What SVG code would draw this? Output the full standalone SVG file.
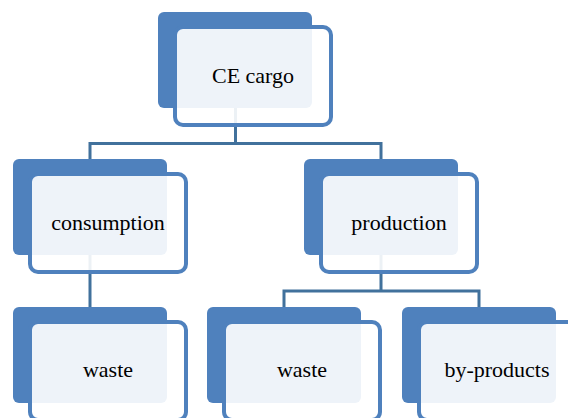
<svg xmlns="http://www.w3.org/2000/svg" width="568" height="418" viewBox="0 0 568 418">
<style>
.back{fill:#4f81bd;}
.front{fill:#ffffff;fill-opacity:0.9;stroke:#4f81bd;stroke-width:4;}
.lbl{font-family:"Liberation Serif","Times New Roman",serif;font-size:22px;fill:#000;text-anchor:middle;}
.conn{fill:none;stroke:#41719c;stroke-width:3;}
</style>
<rect width="568" height="418" fill="#ffffff"/>
<g id="connectors">
<path class="conn" d="M235.5,108 V143.5 M90,159 V143.5 H381 V159"/>
<path class="conn" d="M90,255 V307"/>
<path class="conn" d="M381,255 V291 M284,307 V291 H479 V307"/>
</g>
<g id="node-ce-cargo">
<rect class="back" x="158" y="12" width="154" height="96" rx="6"/>
<rect class="front" x="175" y="27" width="156" height="98" rx="8"/>
<text class="lbl" x="253" y="83">CE cargo</text>
</g>
<g id="node-consumption">
<rect class="back" x="13" y="159" width="154" height="96" rx="6"/>
<rect class="front" x="30" y="174" width="156" height="98" rx="8"/>
<text class="lbl" x="108" y="230">consumption</text>
</g>
<g id="node-production">
<rect class="back" x="304" y="159" width="154" height="96" rx="6"/>
<rect class="front" x="321" y="174" width="156" height="98" rx="8"/>
<text class="lbl" x="399" y="230">production</text>
</g>
<g id="node-waste-consumption">
<rect class="back" x="13" y="307" width="154" height="96" rx="6"/>
<rect class="front" x="30" y="322" width="156" height="98" rx="8"/>
<text class="lbl" x="108" y="377">waste</text>
</g>
<g id="node-waste-production">
<rect class="back" x="207" y="307" width="154" height="96" rx="6"/>
<rect class="front" x="224" y="322" width="156" height="98" rx="8"/>
<text class="lbl" x="302" y="377">waste</text>
</g>
<g id="node-by-products">
<rect class="back" x="402" y="307" width="154" height="96" rx="6"/>
<rect class="front" x="419" y="322" width="156" height="98" rx="8"/>
<text class="lbl" x="497" y="377">by-products</text>
</g>
</svg>
